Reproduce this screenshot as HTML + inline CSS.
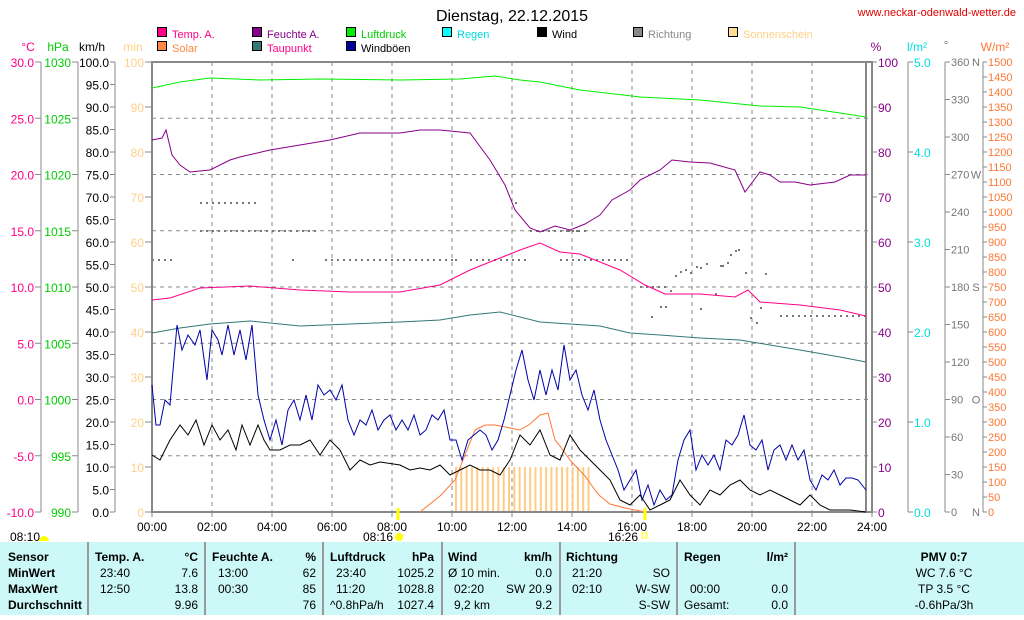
<!DOCTYPE html>
<html><head><meta charset="utf-8"><style>
body{margin:0;background:#fff;width:1024px;height:615px;overflow:hidden;font-family:"Liberation Sans",sans-serif}
svg text{font-family:"Liberation Sans",sans-serif;font-size:12px}
</style></head><body>
<svg id="s" width="1024" height="615" xmlns="http://www.w3.org/2000/svg">
<rect width="1024" height="615" fill="#fff"/>
<text x="512" y="21" text-anchor="middle" style="font-size:16px">Dienstag, 22.12.2015</text>
<text x="1016" y="16" text-anchor="end" fill="#e00000" style="font-size:11px">www.neckar-odenwald-wetter.de</text>
<g id="g"></g>
<rect x="0" y="542" width="1024" height="73" fill="#ccf8f8"/>
<g stroke="#999" stroke-width="2"><line x1="88" y1="542" x2="88" y2="615"/><line x1="205" y1="542" x2="205" y2="615"/><line x1="323" y1="542" x2="323" y2="615"/><line x1="442" y1="542" x2="442" y2="615"/><line x1="560" y1="542" x2="560" y2="615"/><line x1="677" y1="542" x2="677" y2="615"/><line x1="795" y1="542" x2="795" y2="615"/></g>
<g style="font-size:12px" font-weight="bold">
<text x="8" y="561" font-weight="bold">Sensor</text><text x="8" y="577" font-weight="bold">MinWert</text><text x="8" y="593" font-weight="bold">MaxWert</text><text x="8" y="609" font-weight="bold">Durchschnitt</text>
<text x="95" y="561" font-weight="bold">Temp. A.</text><text x="198" y="561" text-anchor="end" font-weight="bold">°C</text>
<text x="212" y="561" font-weight="bold">Feuchte A.</text><text x="316" y="561" text-anchor="end" font-weight="bold">%</text>
<text x="330" y="561" font-weight="bold">Luftdruck</text><text x="434" y="561" text-anchor="end" font-weight="bold">hPa</text>
<text x="448" y="561" font-weight="bold">Wind</text><text x="552" y="561" text-anchor="end" font-weight="bold">km/h</text>
<text x="566" y="561" font-weight="bold">Richtung</text>
<text x="684" y="561" font-weight="bold">Regen</text><text x="788" y="561" text-anchor="end" font-weight="bold">l/m²</text>
<text x="944" y="561" text-anchor="middle" font-weight="bold">PMV 0:7</text>
</g>
<g style="font-size:12px">
<text x="100" y="577">23:40</text><text x="198" y="577" text-anchor="end">7.6</text>
<text x="100" y="593">12:50</text><text x="198" y="593" text-anchor="end">13.8</text>
<text x="198" y="609" text-anchor="end">9.96</text>
<text x="218" y="577">13:00</text><text x="316" y="577" text-anchor="end">62</text>
<text x="218" y="593">00:30</text><text x="316" y="593" text-anchor="end">85</text>
<text x="316" y="609" text-anchor="end">76</text>
<text x="336" y="577">23:40</text><text x="434" y="577" text-anchor="end">1025.2</text>
<text x="336" y="593">11:20</text><text x="434" y="593" text-anchor="end">1028.8</text>
<text x="330" y="609">^0.8hPa/h</text><text x="434" y="609" text-anchor="end">1027.4</text>
<text x="448" y="577">Ø 10 min.</text><text x="552" y="577" text-anchor="end">0.0</text>
<text x="454" y="593">02:20</text><text x="552" y="593" text-anchor="end">SW 20.9</text>
<text x="454" y="609">9,2 km</text><text x="552" y="609" text-anchor="end">9.2</text>
<text x="572" y="577">21:20</text><text x="670" y="577" text-anchor="end">SO</text>
<text x="572" y="593">02:10</text><text x="670" y="593" text-anchor="end">W-SW</text>
<text x="670" y="609" text-anchor="end">S-SW</text>
<text x="690" y="593">00:00</text><text x="788" y="593" text-anchor="end">0.0</text>
<text x="684" y="609">Gesamt:</text><text x="788" y="609" text-anchor="end">0.0</text>
<text x="944" y="577" text-anchor="middle">WC 7.6 °C</text>
<text x="944" y="593" text-anchor="middle">TP 3.5 °C</text>
<text x="944" y="609" text-anchor="middle">-0.6hPa/3h</text>
</g>
</svg>
<script>
const g=document.getElementById('g');let h='';
const L=152,R=872,T=62,B=512;
for(let i=1;i<12;i++){const x=L+i*60;h+=`<line x1="${x}" y1="${T}" x2="${x}" y2="${B}" stroke="#888" stroke-dasharray="4,4"/>`;}
for(let i=1;i<8;i++){const y=B-i*56.25;h+=`<line x1="${L}" y1="${y}" x2="${R}" y2="${y}" stroke="#888" stroke-dasharray="4,4"/>`;}
for(let x=456;x<=590;x+=5.3){h+=`<line x1="${x.toFixed(1)}" y1="467" x2="${x.toFixed(1)}" y2="512" stroke="#ffcc88" stroke-width="2"/>`;}
const dots=[[152,260,20,6],[200,231,55,6],[200,203,30,6],[230,203,30,6],[260,231,60,6],[292,260,6,6],[325,260,130,6],[455,260,6,6],[470,260,60,6],[515,203,6,6],[530,231,60,6],[560,260,70,6],[640,287,30,6],[780,316,90,6],[560,231,20,8]];
dots.forEach(d=>{for(let x=d[0];x<d[0]+d[2];x+=d[3])h+=`<rect x="${x}" y="${d[1]-1}" width="2" height="2" fill="#777"/>`;});
[[651,316],[665,306],[670,290],[675,275],[680,271],[685,269],[690,272],[696,266],[700,267],[706,263],[720,265],[722,265],[727,262],[730,254],[735,250],[738,249],[745,272],[750,317],[756,322],[760,307],[765,273],[700,308],[715,293],[660,306]].forEach(p=>h+=`<rect x="${p[0]}" y="${p[1]}" width="2" height="2" fill="#777"/>`);
h+=`<rect x="${L}" y="${T}" width="${R-L}" height="${B-T}" fill="none" stroke="#888" stroke-width="2"/>`;
h+=`<line x1="866" y1="${T}" x2="866" y2="${B}" stroke="#888" stroke-width="2"/>`;
function pl(s,c,w){h+=`<polyline fill="none" stroke="${c}" stroke-width="${w||1}" points="${s}"/>`;}
pl("152,88 180,82 210,78 260,80 320,79 400,80 460,79 495,76 520,80 540,82 580,90 640,97 700,100 760,106 800,107 840,113 866,117","#00ee00");
pl("152,140 162,138 166,130 172,155 180,165 190,172 210,170 230,160 240,157 270,150 300,145 330,140 360,133 400,133 420,130 440,130 470,133 490,160 505,185 515,210 530,228 540,232 555,226 570,230 585,224 600,215 612,200 630,190 640,180 660,170 672,160 690,162 710,163 735,170 745,192 760,172 770,175 780,182 795,182 810,185 835,182 850,175 866,175","#880088");
pl("152,300 170,298 200,288 250,286 300,290 350,292 400,292 440,285 470,270 490,262 520,250 540,243 560,252 580,254 600,262 620,270 645,285 665,294 700,294 735,297 748,290 760,302 800,305 840,310 866,316","#ff0088");
pl("152,333 180,328 210,324 250,321 300,326 350,324 400,322 440,320 470,315 500,312 540,322 600,326 630,333 660,335 700,338 740,340 770,345 800,350 840,357 866,362","#337777");
pl("420,512 440,496 455,480 465,455 475,430 485,425 495,425 510,428 520,430 530,424 540,415 548,413 555,440 560,446 570,460 585,476 595,490 600,496 610,504 625,508 645,512","#ff7733");
pl("152,385 156,425 160,425 165,400 170,405 177,325 182,350 188,335 195,345 200,330 207,380 212,330 218,340 222,355 228,325 234,355 240,330 246,360 252,325 258,395 264,420 270,440 276,420 282,445 288,410 294,400 300,420 306,395 312,420 318,385 324,395 330,390 336,400 342,385 348,420 354,435 360,420 366,425 372,410 378,430 384,420 390,415 396,430 402,420 408,430 414,415 420,435 426,430 432,415 438,420 444,410 450,440 456,440 462,460 468,440 474,435 480,430 486,435 492,450 498,440 504,420 510,395 516,370 522,350 528,380 534,400 540,370 546,395 552,370 558,390 564,345 570,380 576,370 582,395 588,410 594,390 600,420 606,440 612,455 618,470 624,490 630,480 636,470 642,500 648,485 654,505 660,490 666,500 672,495 678,460 684,440 690,430 696,470 702,455 708,465 714,455 720,470 726,440 732,445 738,435 744,415 750,445 756,450 762,440 768,470 774,450 780,445 786,460 792,445 798,460 804,450 810,480 816,490 822,475 828,480 834,470 840,485 846,478 852,478 858,480 866,490","#0000aa");
pl("152,455 160,460 170,440 180,425 188,435 196,420 204,445 212,425 220,440 228,430 236,450 242,425 250,445 258,425 264,440 270,450 280,450 290,445 300,445 310,440 320,455 330,440 340,450 350,470 360,460 370,465 380,462 400,465 410,470 420,468 430,470 440,465 450,475 460,470 470,465 480,470 490,470 500,475 510,460 520,435 530,445 540,430 550,455 560,460 570,435 580,450 590,460 600,470 610,480 620,500 630,505 640,495 650,510 660,505 670,500 680,480 690,495 700,505 710,490 720,495 730,485 740,480 750,490 760,495 770,490 780,495 790,500 800,505 810,495 820,505 830,510 850,510 866,512","#000");
function ax(x){h+=`<line x1="${x}" y1="${T}" x2="${x}" y2="${B}" stroke="#888"/>`;}
[41,78,115,908,945,983].forEach(ax);
for(let i=0;i<=8;i++){const y=B-i*56.25;
 h+=`<text x="34" y="${y+5}" text-anchor="end" fill="#ff0088">${(-10+i*5).toFixed(1)}</text><line x1="35" y1="${y}" x2="41" y2="${y}" stroke="#888"/>`;
 h+=`<text x="71" y="${y+5}" text-anchor="end" fill="#00cc00">${990+i*5}</text><line x1="72" y1="${y}" x2="78" y2="${y}" stroke="#888"/>`;}
for(let i=0;i<=20;i++){const y=B-i*22.5;h+=`<text x="109" y="${y+5}" text-anchor="end">${(i*5).toFixed(1)}</text><line x1="110" y1="${y}" x2="115" y2="${y}" stroke="#888"/>`;}
for(let i=0;i<=10;i++){const y=B-i*45;h+=`<text x="144" y="${y+5}" text-anchor="end" fill="#ffd088">${i*10}</text><line x1="145" y1="${y}" x2="151" y2="${y}" stroke="#888"/>`;
 h+=`<line x1="872" y1="${y}" x2="877" y2="${y}" stroke="#888"/><text x="878" y="${y+5}" fill="#880088">${i*10}</text>`;}
for(let i=0;i<=5;i++){const y=B-i*90;h+=`<line x1="908" y1="${y}" x2="913" y2="${y}" stroke="#888"/><text x="914" y="${y+5}" fill="#00dddd">${i.toFixed(1)}</text>`;}
const dl={0:"0",90:"90",180:"180",270:"270",360:"360"};
const dd={0:"N",90:"O",180:"S",270:"W",360:"N"};
for(let i=0;i<=12;i++){const y=B-i*37.5,v=i*30;h+=`<line x1="945" y1="${y}" x2="950" y2="${y}" stroke="#888"/><text x="951" y="${y+4}" fill="#777" style="font-size:11px">${v}</text>`;
 if(dd[v]!==undefined)h+=`<text x="976" y="${y+4}" fill="#777" text-anchor="middle" style="font-size:11px">${dd[v]}</text>`;}
for(let i=0;i<=30;i++){const y=B-i*15;h+=`<line x1="983" y1="${y}" x2="987" y2="${y}" stroke="#888"/><text x="988" y="${y+4}" fill="#ff7733" style="font-size:11px">${i*50}</text>`;}
for(let i=0;i<=12;i++){const x=L+i*60;h+=`<line x1="${x}" y1="${B}" x2="${x}" y2="${B+5}" stroke="#888"/><text x="${x}" y="531" text-anchor="middle">${String(i*2).padStart(2,'0')}:00</text>`;}
h+=`<text x="28" y="51" text-anchor="middle" fill="#ff0088">°C</text><text x="58" y="51" text-anchor="middle" fill="#00cc00">hPa</text><text x="92" y="51" text-anchor="middle">km/h</text><text x="133" y="51" text-anchor="middle" fill="#ffd088">min</text>`;
h+=`<text x="876" y="51" text-anchor="middle" fill="#880088">%</text><text x="917" y="51" text-anchor="middle" fill="#00dddd">l/m²</text><text x="946" y="49" text-anchor="middle" fill="#777">°</text><text x="995" y="51" text-anchor="middle" fill="#ff7733">W/m²</text>`;
const lg=[[157,37,"#ff0088","Temp. A.","#ff0088"],[252,37,"#880088","Feuchte A.","#880088"],[346,37,"#00ee00","Luftdruck","#00cc00"],[442,37,"#00ffff","Regen","#00dddd"],[537,37,"#000","Wind","#000"],[633,37,"#888","Richtung","#888"],[728,37,"#ffdd99","Sonnenschein","#ffd088"],[157,51,"#ff8844","Solar","#ff8844"],[252,51,"#337777","Taupunkt","#ff0088"],[346,51,"#000099","Windböen","#000"]];
lg.forEach(l=>h+=`<rect x="${l[0]+0.5}" y="${l[1]-9.5}" width="9" height="9" fill="${l[2]}" stroke="#000"/><text x="${l[0]+15}" y="${l[1]+1}" fill="${l[4]}" style="font-size:11px">${l[3]}</text>`);
h+=`<line x1="398" y1="508" x2="398" y2="520" stroke="#ff0" stroke-width="3"/><line x1="645" y1="508" x2="645" y2="520" stroke="#ff0" stroke-width="3"/>`;
h+=`<text x="10" y="541">08:10</text><path d="M39,541 a5,5 0 0 1 10,0z" fill="#ff0"/><text x="393" y="541" text-anchor="end">08:16</text><circle cx="399" cy="537" r="4" fill="#ff0"/><text x="638" y="541" text-anchor="end">16:26</text><rect x="642" y="533" width="5" height="5" fill="none" stroke="#ff0"/>`;
g.innerHTML=h;
</script>
</body></html>
